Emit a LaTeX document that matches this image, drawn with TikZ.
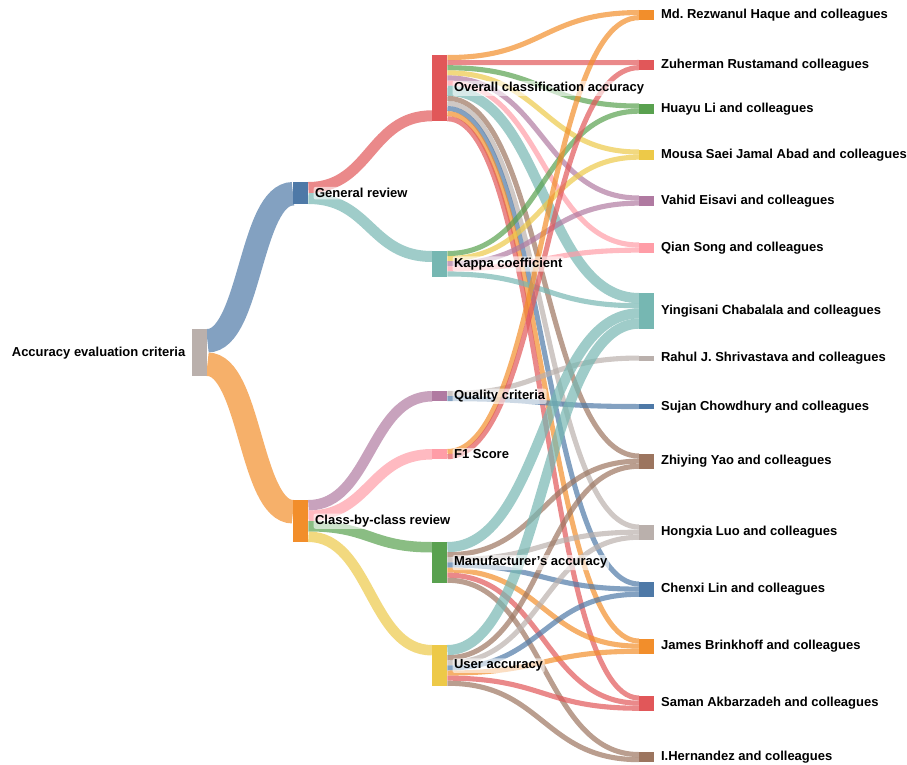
\documentclass[tikz,border=0pt]{standalone}
\usepackage{fontspec}
\setmainfont{Liberation Sans}
\usetikzlibrary{calc,backgrounds}
\frenchspacing

\definecolor{tblue}{HTML}{4E79A7}
\definecolor{torange}{HTML}{F28E2B}
\definecolor{tred}{HTML}{E15759}
\definecolor{tteal}{HTML}{76B7B2}
\definecolor{tgreen}{HTML}{59A14F}
\definecolor{tyellow}{HTML}{EDC948}
\definecolor{tpurple}{HTML}{B07AA1}
\definecolor{tpink}{HTML}{FF9DA7}
\definecolor{tbrown}{HTML}{9C755F}
\definecolor{tgray}{HTML}{BAB0AC}

\tikzset{
  box/.style={draw=none, inner sep=0pt, minimum width=15pt, anchor=north west},
  lbl/.style={font=\fontsize{13}{15}\selectfont\bfseries, fill=white, fill opacity=0.6,
    text opacity=1, inner sep=1.5pt, rounded corners=2pt},
  flow/.style={draw=#1, draw opacity=0.7}
}

\begin{document}
\begin{tikzpicture}[x=1pt, y=-1pt]
			\useasboundingbox (0,0) rectangle (907,765);
			\def\uu{5.1}
			% blocks
			\foreach \nm/\px/\py/\hgt/\col in {root/192/329/47/tgray, gen/293/182/22/tblue, cls/293/500/42/torange,
				ov/432/55/66.3/tred, kap/432/251/25.5/tteal, qual/432/391/10.2/tpurple, fone/432/449/10.2/tpink,
				manu/432/542/40.8/tgreen, user/432/645/40.8/tyellow,
				md/639/10/10.2/torange, zuh/639/60/10.2/tred, hua/639/103.5/10.2/tgreen, mou/639/149.5/10.2/tyellow,
				vah/639/195.5/10.2/tpurple, qia/639/242.5/10.2/tpink, yin/639/293/35.7/tteal, rah/639/355.5/5.1/tgray,
				suj/639/404/5.1/tblue, zhi/639/453.5/15.3/tbrown, hon/639/524.5/15.3/tgray, che/639/581.5/15.3/tblue,
				jam/639/638.5/15.3/torange, sam/639/695.5/15.3/tred, her/639/752/10.2/tbrown}
			\node[box, fill=\col, minimum height=\hgt pt] (\nm) at (\px,\py) {};
			% labels
			\node[lbl, anchor=east] (root-l) at ([xshift=-5pt]root.west) {Accuracy evaluation criteria};
			\foreach \nm/\txt in {gen/General review, cls/Class-by-class review, ov/Overall classification accuracy,
				kap/Kappa coefficient, qual/Quality criteria, fone/F1 Score, manu/Manufacturer's accuracy, user/User accuracy,
				md/Md. Rezwanul Haque and colleagues, zuh/Zuherman Rustamand colleagues, hua/Huayu Li and colleagues,
				mou/Mousa Saei Jamal Abad and colleagues, vah/Vahid Eisavi and colleagues, qia/Qian Song and colleagues,
				yin/Yingisani Chabalala and colleagues, rah/Rahul J. Shrivastava and colleagues, suj/Sujan Chowdhury and colleagues,
				zhi/Zhiying Yao and colleagues, hon/Hongxia Luo and colleagues, che/Chenxi Lin and colleagues,
				jam/James Brinkhoff and colleagues, sam/Saman Akbarzadeh and colleagues, her/I.Hernandez and colleagues}
			\node[lbl, anchor=west] (\nm-l) at ([xshift=5pt]\nm.east) {\txt};
			% flows (offset and width in pt here)
			\begin{scope}[on background layer]
			\foreach \src/\oa/\tgt/\ob/\wd/\col in {root/0/gen/0/23.5/tblue, root/23.5/cls/0/23.5/torange,
				gen/0/ov/55.3/11/tred, gen/11/kap/0/11/tteal,
				cls/0/qual/0/10.5/tpurple, cls/10.5/fone/0/10.5/tpink, cls/21/manu/0/10.5/tgreen, cls/31.5/user/0/10.5/tyellow}
			\draw[flow=\col, line width=\wd pt] let \p1=($(\src.north east)+(0,\oa+\wd/2)$),
				\p2=($(\tgt.north west)+(0,\ob+\wd/2)$), \n1={(\x2-\x1)/2} in
				(\p1) .. controls +(\n1,0pt) and +(-\n1,0pt) .. (\p2);
			% flows (offset and width in units of \uu)
			\foreach \src/\oa/\tgt/\ob/\wd/\col in {ov/0/md/0/1/torange, ov/1/zuh/0/1/tred, ov/2/hua/0/1/tgreen,
				ov/3/mou/0/1/tyellow, ov/4/vah/0/1/tpurple, ov/5/qia/0/1/tpink, ov/6/yin/0/2/tteal, ov/8/zhi/0/1/tbrown,
				ov/9/hon/0/1/tgray, ov/10/che/0/1/tblue, ov/11/jam/0/1/torange, ov/12/sam/0/1/tred,
				kap/0/hua/1/1/tgreen, kap/1/mou/1/1/tyellow, kap/2/vah/1/1/tpurple, kap/3/qia/1/1/tpink, kap/4/yin/2/1/tteal,
				qual/0/rah/0/1/tgray, qual/1/suj/0/1/tblue, fone/0/md/1/1/torange, fone/1/zuh/1/1/tred,
				manu/0/yin/3/2/tteal, manu/2/zhi/1/1/tbrown, manu/3/hon/1/1/tgray, manu/4/che/1/1/tblue,
				manu/5/jam/1/1/torange, manu/6/sam/1/1/tred, manu/7/her/0/1/tbrown,
				user/0/yin/5/2/tteal, user/2/zhi/2/1/tbrown, user/3/hon/2/1/tgray, user/4/che/2/1/tblue,
				user/5/jam/2/1/torange, user/6/sam/2/1/tred, user/7/her/1/1/tbrown}
			{
				\pgfmathsetmacro\lw{\wd*\uu}
				\draw[flow=\col, line width=\lw pt] let \p1=($(\src.north east)+(0,\oa*\uu+\lw/2)$),
					\p2=($(\tgt.north west)+(0,\ob*\uu+\lw/2)$), \n1={(\x2-\x1)/2} in
					(\p1) .. controls +(\n1,0pt) and +(-\n1,0pt) .. (\p2);
			}
			\end{scope}
\end{tikzpicture}
\end{document}
